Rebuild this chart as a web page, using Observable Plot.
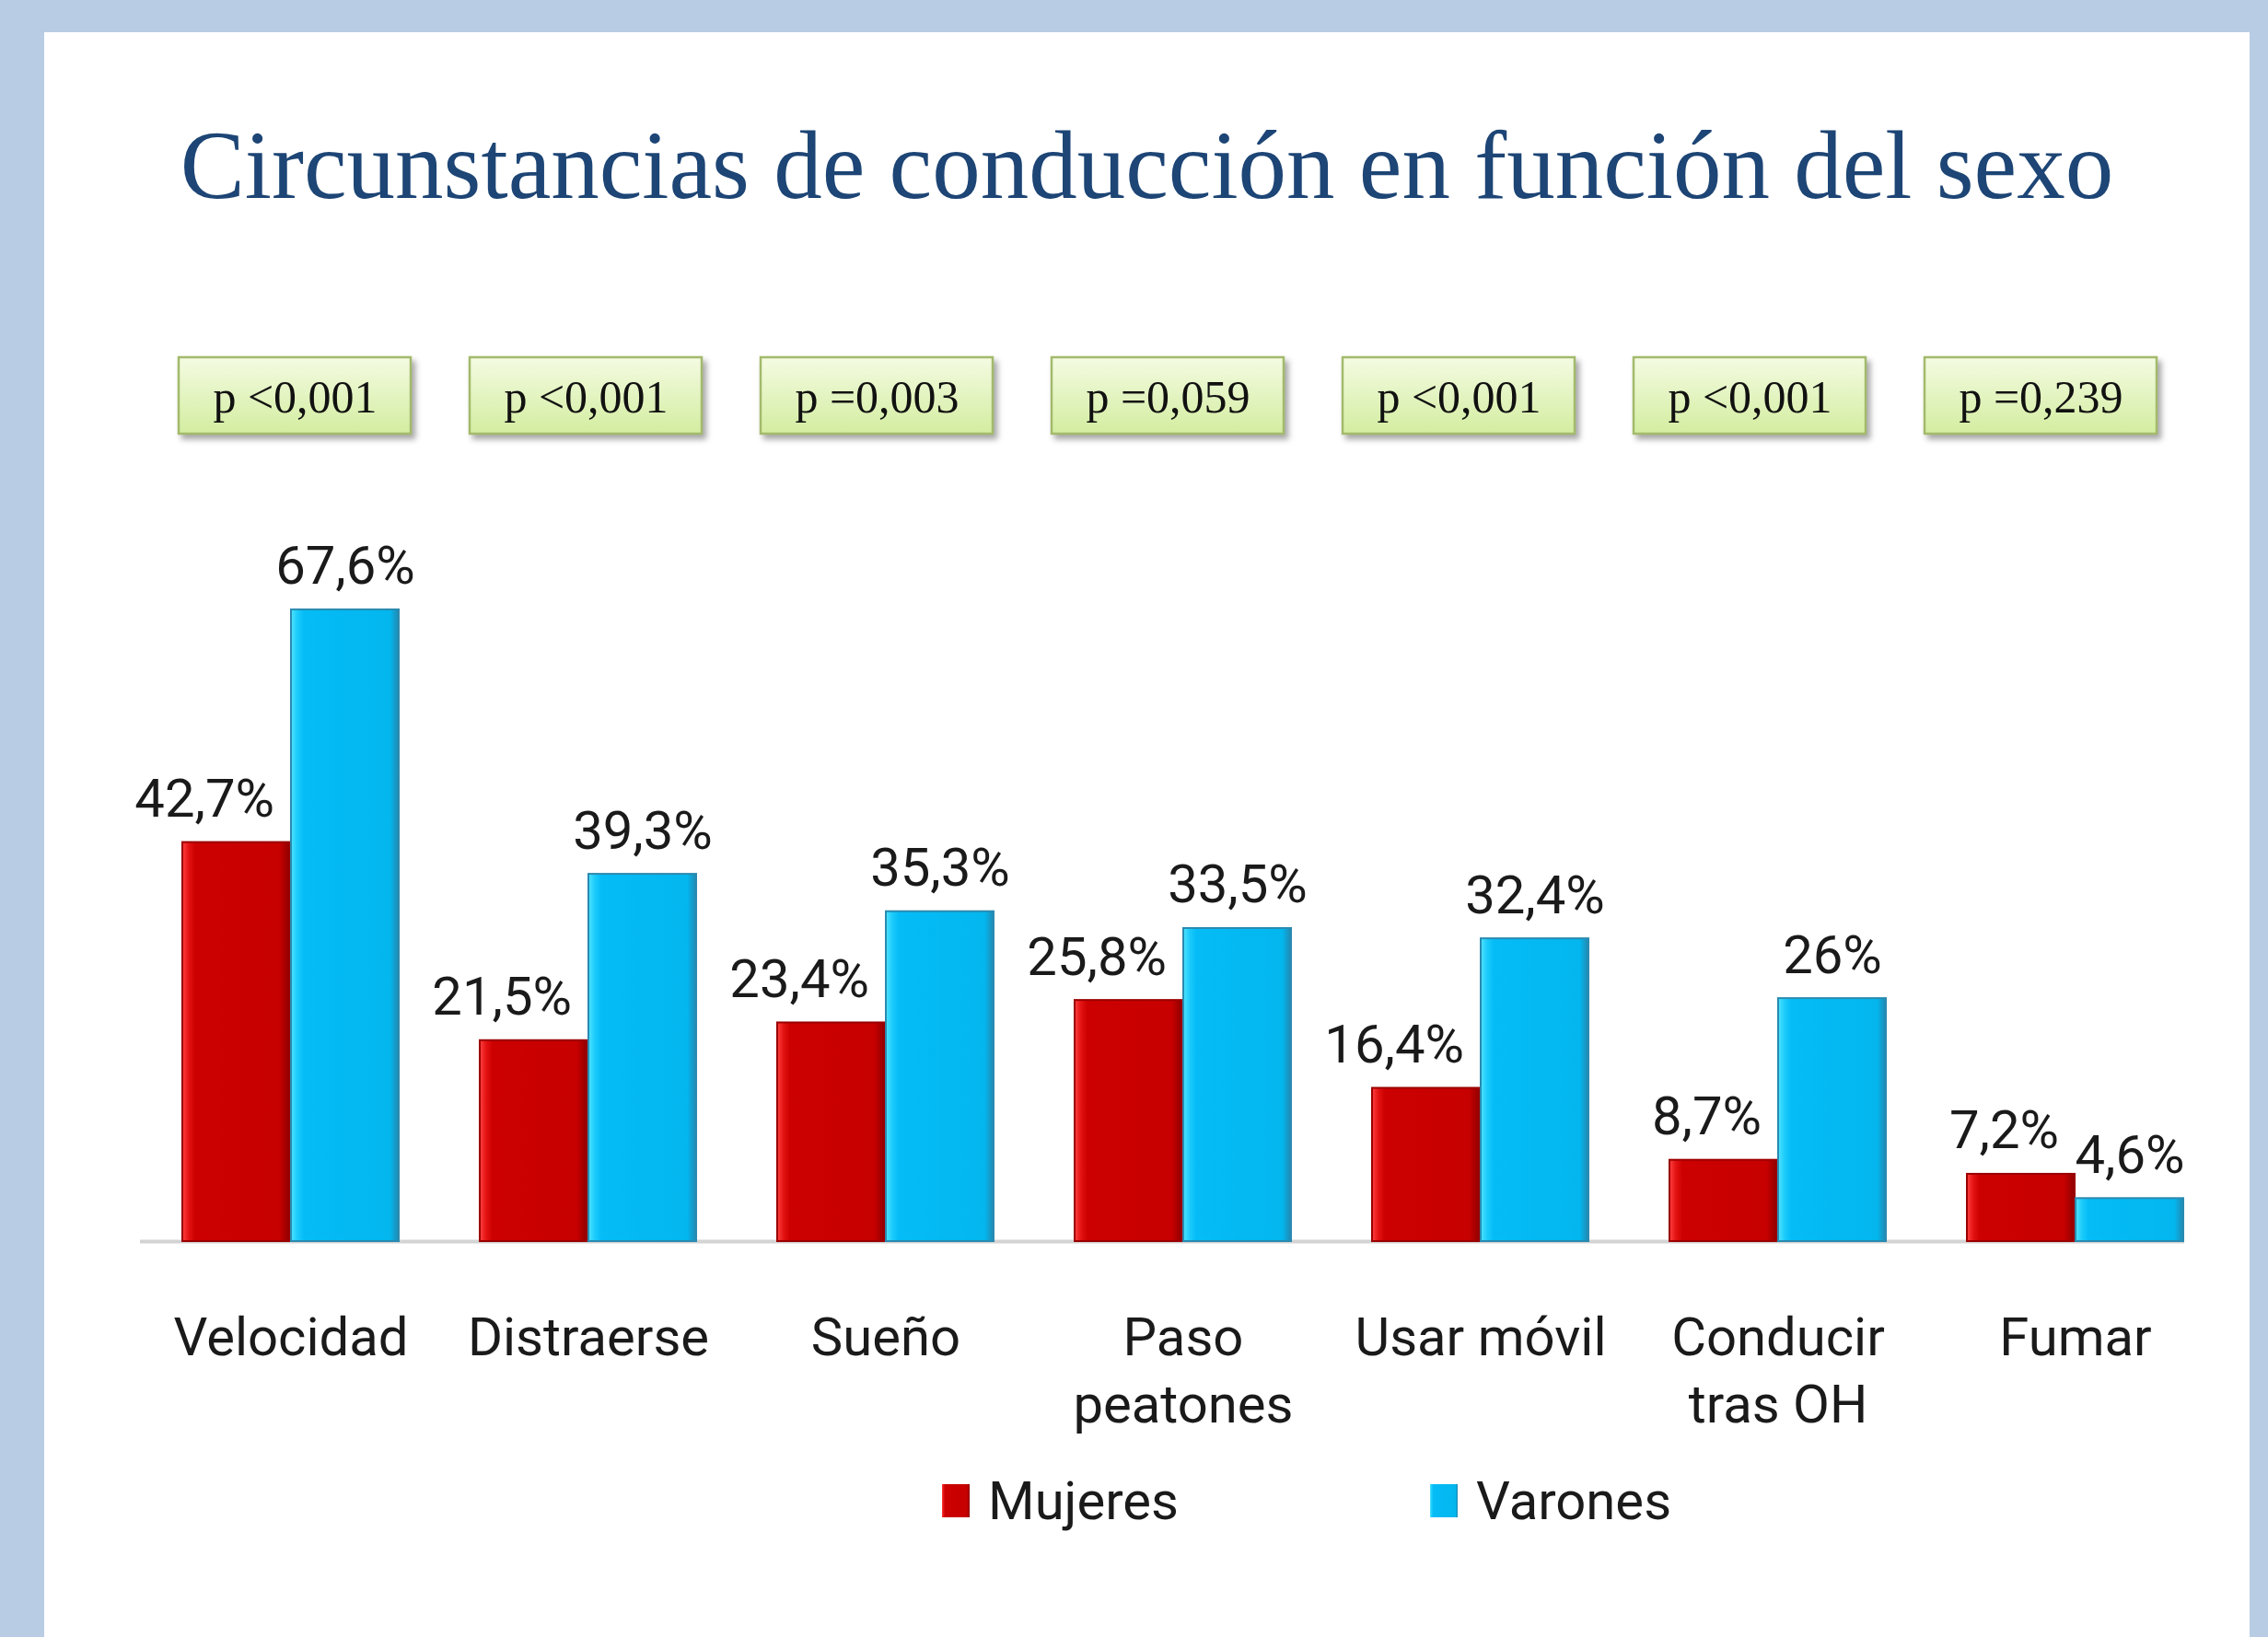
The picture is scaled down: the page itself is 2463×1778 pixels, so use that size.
<!DOCTYPE html>
<html>
<head>
<meta charset="utf-8">
<script src="https://cdn.jsdelivr.net/npm/d3@7"></script>
<script src="https://cdn.jsdelivr.net/npm/@observablehq/plot@0.6"></script>
<style>
  html, body { margin: 0; padding: 0; }
  body { width: 2463px; height: 1778px; background: #b8cce4; position: relative; overflow: hidden; }
  #panel { position: absolute; left: 48px; top: 35px; width: 2395px; height: 1743px; background: #ffffff; }
  #title { position: absolute; left: 48px; top: 128px; width: 2395px; height: 104px; line-height: 104px;
           font-family: "Liberation Serif", "DejaVu Serif", serif; font-size: 105px; color: #1d4575;
           text-align: center; white-space: nowrap; }
  #pbox { position: absolute; left: 0; top: 380px; }
  #chart { position: absolute; left: 0; top: 540px; }
  #legend { position: absolute; left: 1023px; top: 1601px; }
  #legend .lg-swatches { font-family: "Liberation Sans Narrow", Roboto, sans-serif !important; font-size: 58px !important;
                         color: #1a1a1a !important; line-height: 1 !important; margin: 0 !important; min-height: 0 !important; }
  #legend .lg-swatch { width: 530px; margin: 0 !important; }
  #legend .lg-swatch > svg { margin-right: 20px !important; }
  #legend .lg-swatch:last-child { width: auto; }
</style>
</head>
<body>
<svg width="0" height="0" style="position:absolute">
  <defs>
    <linearGradient id="gRed" x1="0" y1="0" x2="1" y2="0">
      <stop offset="0" stop-color="#ff4040"/>
      <stop offset="0.06" stop-color="#e31212"/>
      <stop offset="0.12" stop-color="#cc0000"/>
      <stop offset="0.9" stop-color="#c70000"/>
      <stop offset="1" stop-color="#8e0000"/>
    </linearGradient>
    <linearGradient id="gBlue" x1="0" y1="0" x2="1" y2="0">
      <stop offset="0" stop-color="#4fe4ff"/>
      <stop offset="0.06" stop-color="#1ccbfb"/>
      <stop offset="0.12" stop-color="#05bcf7"/>
      <stop offset="0.92" stop-color="#03b6ee"/>
      <stop offset="1" stop-color="#2388b0"/>
    </linearGradient>
    <linearGradient id="gGreen" x1="0" y1="0" x2="0" y2="1">
      <stop offset="0" stop-color="#f4fbe2"/>
      <stop offset="1" stop-color="#d3eda0"/>
    </linearGradient>
  </defs>
</svg>
<div id="panel"></div>
<div id="title">Circunstancias de conducción en función del sexo</div>
<div id="pbox"></div>
<div id="chart"></div>
<div id="legend"></div>
<script>
// ---- data ----
const categories = ["Velocidad", "Distraerse", "Sueño", "Paso\npeatones", "Usar móvil", "Conducir\ntras OH", "Fumar"];
const series = ["Mujeres", "Varones"];
const mujeres = [42.7, 21.5, 23.4, 25.8, 16.4, 8.7, 7.2];
const varones = [67.6, 39.3, 35.3, 33.5, 32.4, 26, 4.6];
const pValues = ["p <0,001", "p <0,001", "p =0,003", "p =0,059", "p <0,001", "p <0,001", "p =0,239"];

const mujRows = categories.map((c, i) => ({cat: c, value: mujeres[i]}));
const varRows = categories.map((c, i) => ({cat: c, value: varones[i]}));
const pRows = categories.map((c, i) => ({cat: c, p: pValues[i]}));
const fmt = v => String(v).replace(".", ",") + "%";

const sansFont = '"Liberation Sans Narrow", Roboto, sans-serif';

// ---- p-value boxes ----
const pPlot = Plot.plot({
  width: 2463,
  height: 100,
  marginTop: 8,
  marginBottom: 9,
  marginLeft: 159.6,
  marginRight: 86,
  x: {domain: categories, paddingInner: 0.2014, paddingOuter: 0.1007, axis: null},
  style: {background: "transparent", fontFamily: '"Liberation Serif", "DejaVu Serif", serif', overflow: "visible"},
  marks: [
    Plot.cell(pRows, {x: "cat", fill: "url(#gGreen)", stroke: "#a3ba6c", strokeWidth: 2.5, inset: 0}),
    Plot.text(pRows, {x: "cat", text: "p", fontSize: 50, fill: "#111", frameAnchor: "middle", dy: 2})
  ]
});
d3.select(pPlot).selectAll("g[aria-label=cell] rect").style("filter", "drop-shadow(4px 5px 3px rgba(0,0,0,0.35))");
document.getElementById("pbox").appendChild(pPlot);

// ---- bars ----
const chart = Plot.plot({
  width: 2463,
  height: 1030,
  marginTop: 97.5,
  marginBottom: 222,
  marginLeft: 152,
  marginRight: 45,
  x: {domain: categories, paddingInner: 0.271, paddingOuter: 0.1355, axis: null},
  y: {domain: [0, 70], axis: null},
  style: {background: "transparent", fontFamily: sansFont, overflow: "visible"},
  marks: [
    Plot.ruleY([0], {stroke: "#d3d3d3", strokeWidth: 4, insetRight: 46}),
    Plot.barY(mujRows, {x: "cat", y: "value", insetRight: 118, fill: "url(#gRed)", stroke: "#9a0000", strokeWidth: 2}),
    Plot.barY(varRows, {x: "cat", y: "value", insetLeft: 118, fill: "url(#gBlue)", stroke: "#2a8ab0", strokeWidth: 2}),
    Plot.text(mujRows, {x: "cat", y: "value", text: d => fmt(d.value), textAnchor: "end", lineAnchor: "bottom",
                        dx: -18, dy: -28, fontSize: 58, fill: "#1a1a1a"}),
    Plot.text(varRows, {x: "cat", y: "value", text: d => fmt(d.value), lineAnchor: "bottom",
                        dx: 59, dy: -28, fontSize: 58, fill: "#1a1a1a"}),
    Plot.axisX({anchor: "bottom", tickSize: 0, tickPadding: 71, fontSize: 58, lineHeight: 1.27, fill: "#1a1a1a", label: null})
  ]
});
document.getElementById("chart").appendChild(chart);

// ---- legend ----
const legend = Plot.legend({
  color: {domain: series, range: ["url(#gRed)", "url(#gBlue)"]},
  swatchWidth: 30,
  swatchHeight: 36,
  className: "lg"
});
document.getElementById("legend").appendChild(legend);
</script>
</body>
</html>
